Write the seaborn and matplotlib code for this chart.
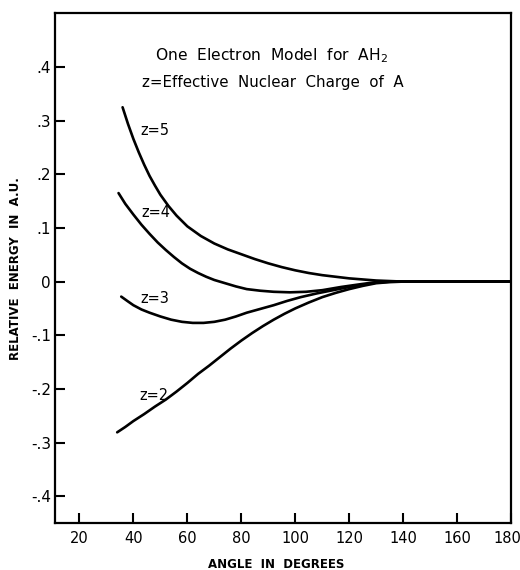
import numpy as np
import pandas as pd
import matplotlib
matplotlib.use('Agg')
import matplotlib.pyplot as plt
import matplotlib.transforms as mtransforms
import seaborn as sns

# Curves (angle in degrees, relative energy in a.u.)
angle_z5 = [36, 38, 40, 42, 44, 46, 48, 50, 53, 56, 60, 65, 70, 75, 80, 85, 90, 95,
            100, 105, 110, 115, 120, 125, 130, 135, 140, 160, 180]
energy_z5 = [0.325, 0.294, 0.266, 0.241, 0.218, 0.197, 0.179, 0.162, 0.141, 0.123, 0.103,
             0.085, 0.071, 0.060, 0.051, 0.042, 0.034, 0.027, 0.021, 0.016, 0.012, 0.009,
             0.006, 0.004, 0.002, 0.001, 0.0, 0.0, 0.0]

angle_z4 = [34.5, 37, 40, 43, 46, 49, 52, 55, 58, 61, 64, 67, 70, 74, 78, 82, 87, 92,
            98, 104, 110, 117, 124, 130, 135, 140, 160, 180]
energy_z4 = [0.165, 0.145, 0.125, 0.106, 0.089, 0.073, 0.059, 0.046, 0.034, 0.024, 0.016,
             0.009, 0.003, -0.003, -0.009, -0.014, -0.017, -0.019, -0.020, -0.019, -0.016,
             -0.010, -0.005, -0.001, 0.0, 0.0, 0.0, 0.0]

angle_z3 = [35.5, 38, 40, 43, 46, 50, 54, 58, 62, 66, 70, 74, 78, 82, 87, 92, 97, 102,
            108, 114, 120, 126, 131, 136, 160, 180]
energy_z3 = [-0.028, -0.037, -0.044, -0.052, -0.058, -0.065, -0.071, -0.075, -0.077, -0.077,
             -0.075, -0.071, -0.065, -0.058, -0.051, -0.044, -0.036, -0.029, -0.022, -0.016,
             -0.010, -0.005, -0.001, 0.0, 0.0, 0.0]

angle_z2 = [34, 37, 40, 44, 48, 52, 56, 60, 64, 68, 72, 76, 80, 84, 88, 92, 96, 100,
            105, 110, 115, 120, 125, 130, 135, 140, 160, 180]
energy_z2 = [-0.281, -0.271, -0.260, -0.247, -0.233, -0.220, -0.205, -0.189, -0.172, -0.157,
             -0.141, -0.125, -0.110, -0.096, -0.083, -0.071, -0.060, -0.050, -0.039, -0.029,
             -0.021, -0.014, -0.008, -0.003, -0.001, 0.0, 0.0, 0.0]

charges = ['z=5', 'z=4', 'z=3', 'z=2']
x_ticks = [20, 40, 60, 80, 100, 120, 140, 160, 180]
y_ticks = [0.4, 0.3, 0.2, 0.1, 0.0, -0.1, -0.2, -0.3, -0.4]
y_tick_labels = ['.4', '.3', '.2', '.1', '0', '-.1', '-.2', '-.3', '-.4']

# where the curve labels sit (data coords)
label_pos = {'z=5': (48.1, 0.281), 'z=4': (48.5, 0.129),
             'z=3': (48.1, -0.031), 'z=2': (47.8, -0.213)}

frames = []
for z, a, e in zip(charges, [angle_z5, angle_z4, angle_z3, angle_z2],
                   [energy_z5, energy_z4, energy_z3, energy_z2]):
    frames.append(pd.DataFrame({'angle': a, 'energy': e, 'z': z}))
df = pd.concat(frames, ignore_index=True)

sns.set_style('ticks')
plt.rcParams['font.family'] = ['DejaVu Sans']
plt.rcParams['text.color'] = 'black'
plt.rcParams['axes.labelcolor'] = 'black'
plt.rcParams['xtick.color'] = 'black'
plt.rcParams['ytick.color'] = 'black'

fig = plt.figure(figsize=(5.2, 5.7), dpi=100)
ax = fig.add_axes([0.106, 0.0825, 0.877, 0.894])

sns.lineplot(data=df, x='angle', y='energy', hue='z', units='z', estimator=None,
             palette=['black'] * 4, linewidth=1.9, legend=False, ax=ax, sort=False)

for z in charges:
    x, y = label_pos[z]
    ax.text(x, y, z, fontsize=10.5, ha='center', va='center')

ax.text(0.474, 0.918, r'One  Electron  Model  for  AH$_2$', transform=ax.transAxes,
        fontsize=11.2, ha='center', va='center')
ax.text(0.478, 0.865, 'z=Effective  Nuclear  Charge  of  A', transform=ax.transAxes,
        fontsize=10.8, ha='center', va='center')

ax.set_xlim(11, 180)
ax.set_ylim(-0.45, 0.5)
ax.set_xticks(x_ticks)
ax.set_yticks(y_ticks)
ax.set_yticklabels(y_tick_labels)
ax.tick_params(direction='in', length=7, width=1.5, labelsize=11)
ax.tick_params(axis='x', pad=6, labelsize=10.5)
ax.tick_params(axis='y', pad=3)

# keep the last x label inside the figure
last = ax.get_xticklabels()[-1]
last.set_transform(last.get_transform() +
                   mtransforms.ScaledTranslation(-4 / 100, 0, fig.dpi_scale_trans))

ax.set_xlabel('ANGLE  IN  DEGREES', fontsize=8.5, fontweight='bold')
ax.set_ylabel('RELATIVE  ENERGY  IN  A.U.', fontsize=8.5, fontweight='bold')
ax.xaxis.set_label_coords(0.485, -0.069)
ax.yaxis.set_label_coords(-0.072, 0.5)

for side in ['left', 'bottom', 'top', 'right']:
    ax.spines[side].set_linewidth(1.6)
    ax.spines[side].set_color('black')

fig.savefig('out.png', dpi=100)
